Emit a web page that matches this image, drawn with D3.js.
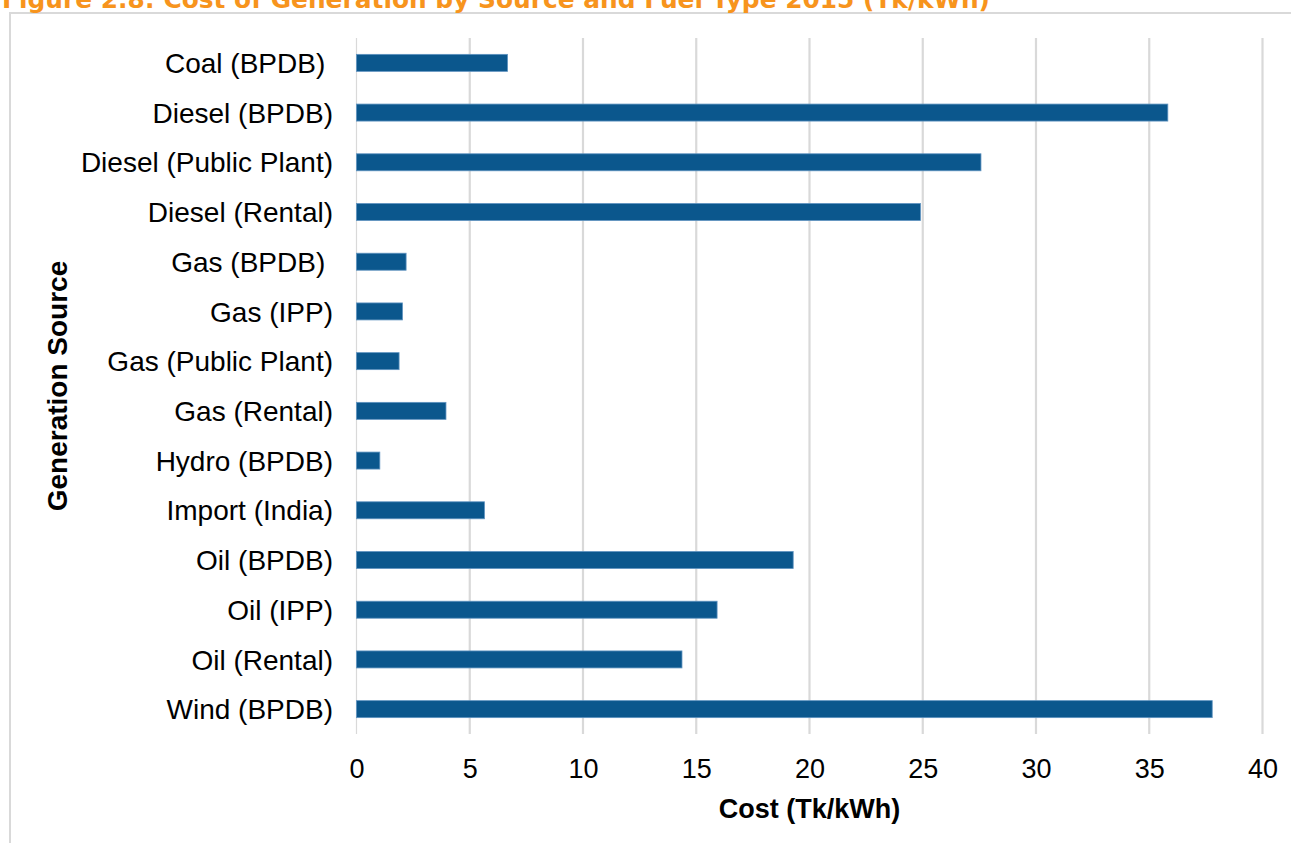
<!DOCTYPE html>
<html>
<head>
<meta charset="utf-8">
<script src="https://cdn.jsdelivr.net/npm/d3@7"></script>
<style>
  html, body { margin: 0; padding: 0; background: #fff; }
  svg { display: block; }
  text { font-family: "Liberation Sans", Arial, sans-serif; }
</style>
</head>
<body>
<svg id="chart" width="1291" height="843"></svg>
<script>
const categories = [
  "Coal (BPDB) ", "Diesel (BPDB)", "Diesel (Public Plant)", "Diesel (Rental)",
  "Gas (BPDB) ", "Gas (IPP)", "Gas (Public Plant)", "Gas (Rental)",
  "Hydro (BPDB)", "Import (India)", "Oil (BPDB)", "Oil (IPP)",
  "Oil (Rental)", "Wind (BPDB)"
];
const costValues = [6.67, 35.82, 27.57, 24.9, 2.19, 2.03, 1.88, 3.95, 1.03, 5.65, 19.28, 15.92, 14.37, 37.78];
const xTicks = [0, 5, 10, 15, 20, 25, 30, 35, 40];
const titleText = "Figure 2.8: Cost of Generation by Source and Fuel Type 2015 (Tk/kWh)";
const xAxisTitle = "Cost (Tk/kWh)";
const yAxisTitle = "Generation Source";

const svg = d3.select("#chart");

// outer frame
svg.append("rect")
  .attr("x", 10).attr("y", 13)
  .attr("width", 1320).attr("height", 900)
  .attr("fill", "none").attr("stroke", "#d9d9d9").attr("stroke-width", 2);

// figure title (cut off at top, as in the reference)
svg.append("text")
  .attr("x", 2).attr("y", 8)
  .attr("fill", "#F7941D")
  .attr("font-weight", "bold")
  .style("font-family", "'DejaVu Sans', sans-serif")
  .attr("font-size", 24)
  .attr("textLength", 988)
  .attr("lengthAdjust", "spacingAndGlyphs")
  .text(titleText);

const x = d3.scaleLinear().domain([0, 40]).range([356.5, 1262.5]);
const y = d3.scaleBand().domain(categories).range([38, 734]).paddingInner(0.658).paddingOuter(0.329);

// gridlines
svg.append("g").selectAll("line").data(xTicks.filter(t => t > 0)).join("line")
  .attr("x1", d => x(d)).attr("x2", d => x(d))
  .attr("y1", 38).attr("y2", 734)
  .attr("stroke", "#d9d9d9").attr("stroke-width", 2.2);

// y axis line
svg.append("line")
  .attr("x1", x(0)).attr("x2", x(0)).attr("y1", 38).attr("y2", 734)
  .attr("stroke", "#d9d9d9").attr("stroke-width", 1.2);

// bars
svg.append("g").selectAll("rect").data(categories).join("rect")
  .attr("x", x(0))
  .attr("y", d => y(d))
  .attr("width", (d, i) => x(costValues[i]) - x(0))
  .attr("height", y.bandwidth())
  .attr("fill", "#0B578D")
  .attr("stroke", "#5f93c0").attr("stroke-width", 0.8);

// x axis (labels only)
const xAxis = d3.axisBottom(x).tickValues(xTicks).tickSize(0).tickPadding(0).tickFormat(d3.format("d"));
const gx = svg.append("g").attr("transform", "translate(0,758)").call(xAxis);
gx.select(".domain").remove();
gx.selectAll("text")
  .attr("font-size", 27).attr("fill", "#000")
  .style("font-family", "'Liberation Sans', Arial, sans-serif")
  .attr("dy", "0.74em");

// y axis (labels only)
const yAxis = d3.axisLeft(y).tickSize(0).tickPadding(0);
const gy = svg.append("g").attr("transform", "translate(333,0)").call(yAxis);
gy.select(".domain").remove();
gy.selectAll("text")
  .attr("font-size", 28).attr("fill", "#000")
  .style("font-family", "'Liberation Sans', Arial, sans-serif")
  .style("white-space", "pre")
  .attr("dy", "0.36em");

// axis titles
svg.append("text")
  .attr("x", (x(0) + x(40)) / 2).attr("y", 818)
  .attr("text-anchor", "middle")
  .attr("font-size", 27).attr("font-weight", "bold")
  .text(xAxisTitle);

svg.append("text")
  .attr("transform", "translate(67,386) rotate(-90)")
  .attr("text-anchor", "middle")
  .attr("font-size", 28).attr("font-weight", "bold")
  .text(yAxisTitle);
</script>
</body>
</html>
